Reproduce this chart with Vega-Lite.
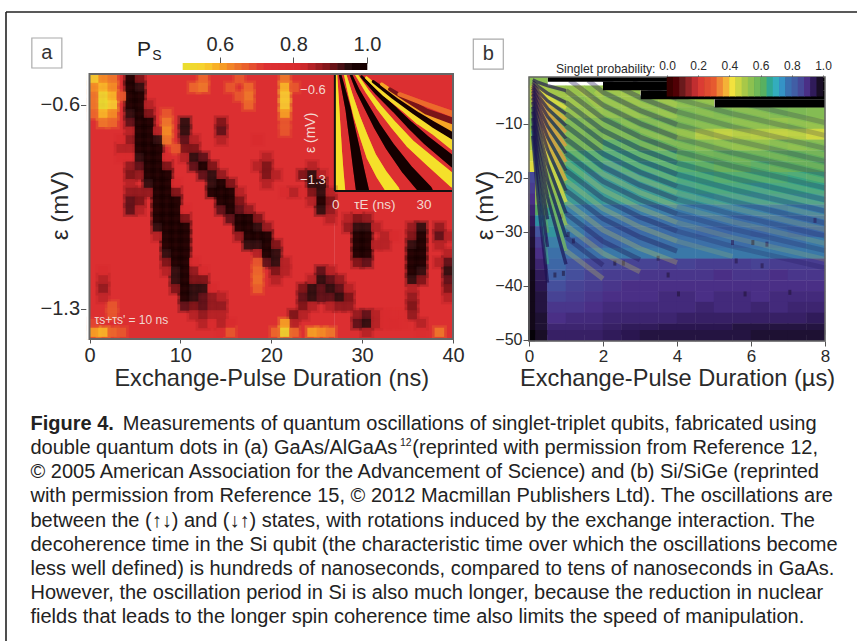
{"$schema":"https://vega.github.io/schema/vega-lite/v6.json","padding":0,"autosize":{"type":"none"},"width":857,"height":641,"background":"#ffffff",
"config":{"font":"Liberation Sans","view":{"stroke":null},"axis":{"grid":false,"labelFlush":false,"labelOverlap":false,"labelColor":"#2a2a2a","titleColor":"#2a2a2a","titleFontWeight":"normal","tickColor":"#555","domainColor":"#555"},"text":{"font":"Liberation Sans"}},
"resolve":{"scale":{"x":"independent","y":"independent","color":"independent","size":"independent"},"axis":{"x":"independent","y":"independent"}},
"layer":[
{"data":{"values":[{"x":0,"x2":851,"y":0,"y2":0},{"x":0,"x2":0,"y":0,"y2":629}]},"mark":{"type":"rule","stroke":"#222","strokeWidth":1.6},"encoding":{"x":{"field":"x","type":"quantitative","scale":{"domain":[0,851],"range":[6,857]},"axis":null},"y":{"field":"y","type":"quantitative","scale":{"domain":[0,629],"range":[12,641]},"axis":null},"x2":{"field":"x2"},"y2":{"field":"y2"}}},
{"encoding":{"x":{"field":"v","type":"quantitative","scale":{"domain":[0.5,1],"range":[183,367]},"axis":{"orient":"top","offset":-63,"values":[0.6,0.8,1.0],"format":".1f","domain":false,"tickSize":6,"labelFontSize":20,"labelPadding":3,"title":null}},"y":{"field":"y","type":"quantitative","scale":{"domain":[0,1],"range":[70,63]},"axis":null}},
"layer":[
{"data":{"values":[{"v":0.51,"y":0,"y2":1},{"v":0.53,"y":0,"y2":1},{"v":0.55,"y":0,"y2":1},{"v":0.57,"y":0,"y2":1},{"v":0.59,"y":0,"y2":1},{"v":0.61,"y":0,"y2":1},{"v":0.63,"y":0,"y2":1},{"v":0.65,"y":0,"y2":1},{"v":0.67,"y":0,"y2":1},{"v":0.69,"y":0,"y2":1},{"v":0.71,"y":0,"y2":1},{"v":0.73,"y":0,"y2":1},{"v":0.75,"y":0,"y2":1},{"v":0.77,"y":0,"y2":1},{"v":0.79,"y":0,"y2":1},{"v":0.81,"y":0,"y2":1},{"v":0.83,"y":0,"y2":1},{"v":0.85,"y":0,"y2":1},{"v":0.87,"y":0,"y2":1},{"v":0.89,"y":0,"y2":1},{"v":0.91,"y":0,"y2":1},{"v":0.93,"y":0,"y2":1},{"v":0.95,"y":0,"y2":1},{"v":0.97,"y":0,"y2":1},{"v":0.99,"y":0,"y2":1}]},
"mark":{"type":"rect","width":8},"encoding":{"y2":{"field":"y2"},"color":{"field":"v","type":"quantitative","legend":null,"scale":{"domain":[0.5,0.56,0.64,0.72,0.82,0.9,0.96,1],"range":["#e8e030","#f8d030","#ef7a2a","#dd3033","#d82c2e","#7a1418","#1a0506","#000000"]}}}},
{"data":{"values":[{"v":0.13,"y":2.43}]},"mark":{"type":"point","shape":"square","size":900,"filled":false,"stroke":"#888","strokeWidth":1.2}},
{"data":{"values":[{"v":0.13,"y":2.43,"label":"a"}]},"mark":{"type":"text","fontSize":20,"fill":"#333"},"encoding":{"text":{"field":"label"}}},
{"data":{"values":[{"v":0.394,"y":2.86,"label":"P"}]},"mark":{"type":"text","fontSize":21,"fill":"#222"},"encoding":{"text":{"field":"label"}}},
{"data":{"values":[{"v":0.429,"y":2.0,"label":"S"}]},"mark":{"type":"text","fontSize":14,"fill":"#222"},"encoding":{"text":{"field":"label"}}}
]},
{"encoding":{"x":{"field":"t","type":"quantitative","scale":{"domain":[0,40],"range":[334,453]},"axis":null},"y":{"field":"e","type":"quantitative","scale":{"domain":[-1.41,-0.49],"range":[191,74]},"axis":null}},
"layer":[
{"data":{"values":[{"t":0,"t2":40,"e":-0.49,"e2":-1.41,"v":0.75}]},"mark":"rect","encoding":{"x2":{"field":"t2"},"y2":{"field":"e2"},"color":{"field":"v","type":"quantitative","legend":null,"scale":{"domain":[0.5,0.56,0.64,0.72,0.82,0.9,0.96,1],"range":["#f5e02a","#f8d030","#ef7a2a","#dd3033","#d82c2e","#7a1418","#1a0506","#000000"]}}}},
{"data":{"name":"fringes"},"mark":{"type":"trail"},"encoding":{"detail":{"field":"c"},"size":{"field":"e","type":"quantitative","legend":null,"scale":{"domain":[-0.49,-1.41],"range":[2.4,13]}},"color":{"field":"h","type":"quantitative"}}},
{"data":{"name":"fringes"},"mark":{"type":"trail"},"encoding":{"detail":{"field":"c"},"size":{"field":"e","type":"quantitative","legend":null,"scale":{"domain":[-0.49,-1.41],"range":[1.2,8]}},"color":{"field":"v","type":"quantitative"}}}
]},
{"encoding":{"x":{"field":"x","type":"quantitative","scale":{"domain":[0,40],"range":[89.5,453]},"axis":{"orient":"bottom","offset":-302,"values":[0,10,20,30,40],"labelFontSize":20,"tickSize":4,"labelPadding":2,"domain":false,"title":"Exchange-Pulse Duration (ns)","titleFontSize":23.6,"titleY":39,"titleBaseline":"middle"}},"y":{"field":"y","type":"quantitative","scale":{"domain":[-1.403,-0.494],"range":[339,74]},"axis":{"orient":"left","offset":-89.5,"values":[-0.6,-1.3],"format":".1f","labelFontSize":20,"tickSize":9,"labelPadding":1,"domain":false,"title":"ε (mV)","titleFontSize":24,"titleX":-29,"titleY":205,"titleBaseline":"middle","titleAlign":"center","titleAngle":-90}}},
"layer":[
{"data":{"values":[{"x":0,"x2":27,"y":-0.494,"y2":-1.403,"v":0.75},{"x":27,"x2":40,"y":-0.8955,"y2":-1.403,"v":0.75}]},"mark":"rect","encoding":{"x2":{"field":"x2"},"y2":{"field":"y2"},"color":{"field":"v","type":"quantitative","legend":null,"scale":{"domain":[0.5,0.56,0.64,0.72,0.82,0.9,0.96,1],"range":["#e8e030","#f8d030","#ef7a2a","#dd3033","#d82c2e","#7a1418","#1a0506","#000000"]}}}},
{"data":{"name":"cellsA"},"mark":{"type":"rect","width":15,"height":14,"opacity":0.3},"encoding":{"color":{"field":"v","type":"quantitative"}}},
{"data":{"name":"cellsA"},"mark":{"type":"rect","width":9.6,"height":9.2,"opacity":0.85},"encoding":{"color":{"field":"v","type":"quantitative"}}},
{"data":{"values":[{"x":40,"x2":42,"y":-0.48,"y2":-1.403},{"x":-0.35,"x2":42,"y":-0.494,"y2":-0.484},{"x":-0.35,"x2":0,"y":-0.48,"y2":-1.403}]},"mark":{"type":"rect","fill":"#ffffff"},"encoding":{"x2":{"field":"x2"},"y2":{"field":"y2"}}},
{"data":{"values":[{"x":27,"x2":27,"y":-0.494,"y2":-0.8955},{"x":27,"x2":40,"y":-0.8955,"y2":-0.8955}]},"mark":{"type":"rule","stroke":"#111","strokeWidth":2},"encoding":{"x2":{"field":"x2"},"y2":{"field":"y2"}}},
{"data":{"values":[{"x":0,"x2":40,"y":-0.494,"y2":-1.403}]},"mark":{"type":"rect","fillOpacity":0,"stroke":"#666","strokeWidth":2},"encoding":{"x2":{"field":"x2"},"y2":{"field":"y2"}}},
{"data":{"values":[{"x":26,"y":-0.548,"label":"−0.6"},{"x":26,"y":-0.858,"label":"−1.3"}]},"mark":{"type":"text","fontSize":13,"align":"right","fill":"#f3d8d0"},"encoding":{"text":{"field":"label"}}},
{"data":{"values":[{"x":27.1,"y":-0.944,"label":"0"},{"x":31.4,"y":-0.944,"label":"τE (ns)"},{"x":36.8,"y":-0.944,"label":"30"}]},"mark":{"type":"text","fontSize":13.5,"fill":"#f3d8d0"},"encoding":{"text":{"field":"label"}}},
{"data":{"values":[{"x":24.4,"y":-0.696,"label":"ε (mV)"}]},"mark":{"type":"text","fontSize":14,"angle":270,"fill":"#f3d8d0"},"encoding":{"text":{"field":"label"}}},
{"data":{"values":[{"x":4.6,"y":-1.337,"label":"τs+τs' = 10 ns"}]},"mark":{"type":"text","fontSize":12,"fill":"#f0d8d0"},"encoding":{"text":{"field":"label"}}}
]},
{"encoding":{"x":{"field":"x","type":"quantitative","scale":{"domain":[0,8],"range":[529,825]},"axis":{"orient":"bottom","offset":-300,"values":[0,2,4,6,8],"labelFontSize":17,"tickSize":5,"labelPadding":2,"domain":false,"title":"Exchange-Pulse Duration (µs)","titleFontSize":23.6,"titleY":37,"titleBaseline":"middle"}},"y":{"field":"y","type":"quantitative","scale":{"domain":[-50.2,-1.4],"range":[341,77]},"axis":{"orient":"left","offset":-529,"values":[-10,-20,-30,-40,-50],"format":"d","labelFontSize":16,"tickSize":6,"labelPadding":1,"domain":false,"title":"ε (mV)","titleFontSize":24,"titleX":-44,"titleY":205,"titleBaseline":"middle","titleAlign":"center","titleAngle":-90}}},
"layer":[
{"data":{"name":"cellsB"},"mark":{"type":"rect","width":19,"height":11.2},"encoding":{"color":{"field":"v","type":"quantitative","legend":null,"scale":{"domain":[0,0.1,0.2,0.3,0.36,0.42,0.5,0.62,0.68,0.76,0.78,0.84,0.9,0.95,1],"range":["#000000","#6a1a1c","#d83434","#e65a30","#f09a3a","#f2e23e","#a8c848","#58a860","#3e9a96","#3c7fa8","#3c70a8","#45559f","#4a2f86","#2a1650","#050208"]}}}},
{"data":{"values":[{"x":0.07,"y":-20,"v":0.86},{"x":0.07,"y":-22,"v":0.88},{"x":0.07,"y":-24,"v":0.9},{"x":0.07,"y":-26,"v":0.92},{"x":0.07,"y":-28,"v":0.94},{"x":0.07,"y":-30,"v":0.96},{"x":0.07,"y":-32,"v":0.97},{"x":0.07,"y":-34,"v":0.98},{"x":0.07,"y":-36,"v":0.98},{"x":0.07,"y":-38,"v":0.99},{"x":0.07,"y":-40,"v":0.99},{"x":0.07,"y":-42,"v":0.99},{"x":0.07,"y":-44,"v":0.99},{"x":0.07,"y":-46,"v":0.99},{"x":0.07,"y":-48,"v":0.99},{"x":0.07,"y":-49.2,"v":1}]},"mark":{"type":"rect","width":7,"height":11.2},"encoding":{"color":{"field":"v","type":"quantitative"}}},
{"data":{"values":[{"x":2.32,"y":-35.8,"v":0.97},{"x":2.55,"y":-35.8,"v":0.97},{"x":0.7,"y":-38,"v":0.97},{"x":0.93,"y":-37.7,"v":0.97},{"x":3.49,"y":-34.9,"v":0.96},{"x":3.76,"y":-38,"v":0.97},{"x":6.05,"y":-32,"v":0.97},{"x":5.5,"y":-32,"v":0.95},{"x":5.6,"y":-35.4,"v":0.96},{"x":6.3,"y":-36.3,"v":0.96},{"x":7.05,"y":-41.2,"v":0.97},{"x":5.84,"y":-41.5,"v":0.97},{"x":4.04,"y":-41.5,"v":0.97},{"x":7.73,"y":-27.9,"v":0.94},{"x":6.43,"y":-32.3,"v":0.95},{"x":1.2,"y":-31.7,"v":0.96},{"x":1.06,"y":-30.5,"v":0.96},{"x":0.88,"y":-27.1,"v":0.95}]},"mark":{"type":"rect","width":3,"height":5,"opacity":0.55},"encoding":{"color":{"field":"v","type":"quantitative"}}},
{"data":{"name":"brightB"},"transform":[{"filter":"datum.p=='t'"}],"mark":{"type":"line","strokeWidth":5,"opacity":0.14,"stroke":"#e8e04a","strokeCap":"butt"},"encoding":{"detail":{"field":"s"}}},
{"data":{"name":"darkB"},"transform":[{"filter":"datum.p=='t'"}],"mark":{"type":"line","strokeWidth":5,"opacity":0.2,"stroke":"#1a1050","strokeCap":"butt"},"encoding":{"detail":{"field":"s"}}},
{"data":{"name":"brightB"},"transform":[{"filter":"datum.p=='m'"}],"mark":{"type":"line","strokeWidth":5,"opacity":0.24,"stroke":"#e8e04a","strokeCap":"butt"},"encoding":{"detail":{"field":"s"}}},
{"data":{"name":"darkB"},"transform":[{"filter":"datum.p=='m'"}],"mark":{"type":"line","strokeWidth":5,"opacity":0.34,"stroke":"#1a1050","strokeCap":"butt"},"encoding":{"detail":{"field":"s"}}},
{"data":{"name":"brightB"},"transform":[{"filter":"datum.p=='f'"}],"mark":{"type":"line","strokeWidth":3.6,"opacity":0.7,"strokeCap":"butt"},"encoding":{"detail":{"field":"s"},"color":{"field":"v","type":"quantitative"}}},
{"data":{"name":"darkB"},"transform":[{"filter":"datum.p=='f'"}],"mark":{"type":"line","strokeWidth":3.4,"opacity":0.65,"stroke":"#1a1050","strokeCap":"butt"},"encoding":{"detail":{"field":"s"}}},
{"data":{"values":[{"x":0.51,"x2":8,"y":-1.4,"y2":-2.3},{"x":2,"x2":8,"y":-2.3,"y2":-3.85},{"x":3.02,"x2":8,"y":-3.85,"y2":-5.5},{"x":5.02,"x2":8,"y":-5.5,"y2":-7.05}]},"mark":{"type":"rect","fill":"#000"},"encoding":{"x2":{"field":"x2"},"y2":{"field":"y2"}}},
{"data":{"values":[{"x":0,"x2":8,"y":-1.4,"y2":-50.2}]},"mark":{"type":"rect","fillOpacity":0,"stroke":"#666","strokeWidth":1.5},"encoding":{"x2":{"field":"x2"},"y2":{"field":"y2"}}},
{"data":{"values":[{"x":-1.1,"y":2.84}]},"mark":{"type":"point","shape":"square","size":900,"filled":false,"stroke":"#888","strokeWidth":1.2}},
{"data":{"values":[{"x":-1.1,"y":2.84,"label":"b"}]},"mark":{"type":"text","fontSize":20,"fill":"#333"},"encoding":{"text":{"field":"label"}}}
]},
{"data":{"values":[{"p":0.02},{"p":0.06},{"p":0.1},{"p":0.14},{"p":0.18},{"p":0.22},{"p":0.26},{"p":0.3},{"p":0.34},{"p":0.38},{"p":0.42},{"p":0.46},{"p":0.5},{"p":0.54},{"p":0.58},{"p":0.62},{"p":0.66},{"p":0.7},{"p":0.74},{"p":0.78},{"p":0.82},{"p":0.86},{"p":0.9},{"p":0.94},{"p":0.98}]},
"mark":{"type":"rect","width":6.8},"encoding":{"x":{"field":"p","type":"quantitative","scale":{"domain":[0,1],"range":[667,823]},"axis":{"orient":"top","offset":-77,"values":[0,0.2,0.4,0.6,0.8,1],"format":".1f","domain":false,"tickSize":2,"labelFontSize":12,"labelPadding":3,"title":"Singlet probability:","titleFontSize":12.2,"titleX":655,"titleY":-9,"titleAlign":"right","titleBaseline":"middle","titleAngle":0}},"y":{"datum":-1.4,"type":"quantitative","scale":{"domain":[-50.2,-1.4],"range":[341,77]},"axis":null},"y2":{"datum":-5},"color":{"field":"p","type":"quantitative","legend":null,"scale":{"domain":[0,0.1,0.2,0.3,0.36,0.42,0.5,0.62,0.68,0.72,0.75,0.78,0.84,0.9,0.95,1],"range":["#000000","#6a1a1c","#d83434","#e65a30","#f09a3a","#f2e23e","#a8c848","#58b060","#3ea0a0","#34b8dc","#3a80b8","#3a70b0","#45559f","#4a2f86","#2a1650","#050208"]}}}},
{"encoding":{"y":{"field":"line","type":"quantitative","scale":{"domain":[0,8],"range":[424,617]},"axis":null}},"layer":[
{"data":{"values":[{"line":0,"text":"Measurements of quantum oscillations of singlet-triplet qubits, fabricated using"}]},"mark":{"type":"text","align":"left","fontSize":20,"fill":"#222"},"encoding":{"x":{"datum":129,"type":"quantitative","scale":{"domain":[0,857],"range":[0,857]},"axis":null},"text":{"field":"text"}}},
{"data":{"values":[{"line":0,"text":"Figure 4."}]},"mark":{"type":"text","align":"left","fontSize":20,"fontWeight":"bold","fill":"#222"},"encoding":{"x":{"datum":32,"type":"quantitative"},"text":{"field":"text"}}},
{"data":{"values":[{"line":1,"text":"double quantum dots in (a) GaAs/AlGaAs"}]},"mark":{"type":"text","align":"left","fontSize":20,"fill":"#222"},"encoding":{"x":{"datum":32,"type":"quantitative"},"text":{"field":"text"}}},
{"data":{"values":[{"line":0.8,"text":"12"}]},"mark":{"type":"text","align":"left","fontSize":10.5,"fill":"#222"},"encoding":{"x":{"datum":420,"type":"quantitative"},"text":{"field":"text"}}},
{"data":{"values":[{"line":1,"text":"(reprinted with permission from Reference 12,"}]},"mark":{"type":"text","align":"left","fontSize":20,"fill":"#222"},"encoding":{"x":{"datum":433,"type":"quantitative"},"text":{"field":"text"}}},
{"data":{"values":[{"line":2,"text":"© 2005 American Association for the Advancement of Science) and (b) Si/SiGe (reprinted"},{"line":3,"text":"with permission from Reference 15, © 2012 Macmillan Publishers Ltd). The oscillations are"},{"line":4,"text":"between the (↑↓) and (↓↑) states, with rotations induced by the exchange interaction. The"},{"line":5,"text":"decoherence time in the Si qubit (the characteristic time over which the oscillations become"},{"line":6,"text":"less well defined) is hundreds of nanoseconds, compared to tens of nanoseconds in GaAs."},{"line":7,"text":"However, the oscillation period in Si is also much longer, because the reduction in nuclear"},{"line":8,"text":"fields that leads to the longer spin coherence time also limits the speed of manipulation."}]},"mark":{"type":"text","align":"left","fontSize":20,"fill":"#222"},"encoding":{"x":{"datum":32,"type":"quantitative"},"text":{"field":"text"}}}
]}
],
"datasets":{
"fringes":[
{"c":"Y1","t":0.67,"e":-0.49,"v":0.5,"h":0.62},{"c":"Y1","t":0.8,"e":-0.65,"v":0.5,"h":0.62},{"c":"Y1","t":0.9,"e":-0.8,"v":0.5,"h":0.62},{"c":"Y1","t":1.0,"e":-0.95,"v":0.5,"h":0.62},{"c":"Y1","t":1.1,"e":-1.09,"v":0.5,"h":0.62},{"c":"Y1","t":1.3,"e":-1.25,"v":0.5,"h":0.62},{"c":"Y1","t":1.6,"e":-1.41,"v":0.5,"h":0.62},
{"c":"K1","t":2,"e":-0.49,"v":1,"h":0.88},{"c":"K1","t":3.4,"e":-0.63,"v":1,"h":0.88},{"c":"K1","t":4.8,"e":-0.77,"v":1,"h":0.88},{"c":"K1","t":5.9,"e":-0.92,"v":1,"h":0.88},{"c":"K1","t":7,"e":-1.06,"v":1,"h":0.88},{"c":"K1","t":8.3,"e":-1.24,"v":1,"h":0.88},{"c":"K1","t":9.6,"e":-1.41,"v":1,"h":0.88},
{"c":"Y2","t":3.7,"e":-0.49,"v":0.5,"h":0.62},{"c":"Y2","t":5.5,"e":-0.65,"v":0.5,"h":0.62},{"c":"Y2","t":7.6,"e":-0.82,"v":0.5,"h":0.62},{"c":"Y2","t":10,"e":-0.98,"v":0.5,"h":0.62},{"c":"Y2","t":12.6,"e":-1.14,"v":0.5,"h":0.62},{"c":"Y2","t":16,"e":-1.28,"v":0.5,"h":0.62},{"c":"Y2","t":19.9,"e":-1.41,"v":0.5,"h":0.62},
{"c":"K2","t":5.6,"e":-0.49,"v":1,"h":0.88},{"c":"K2","t":8,"e":-0.62,"v":1,"h":0.88},{"c":"K2","t":10.9,"e":-0.745,"v":1,"h":0.88},{"c":"K2","t":14.5,"e":-0.9,"v":1,"h":0.88},{"c":"K2","t":18.8,"e":-1.06,"v":1,"h":0.88},{"c":"K2","t":24.5,"e":-1.24,"v":1,"h":0.88},{"c":"K2","t":31,"e":-1.41,"v":1,"h":0.88},
{"c":"Y3","t":7.4,"e":-0.49,"v":0.5,"h":0.62},{"c":"Y3","t":11,"e":-0.62,"v":0.5,"h":0.62},{"c":"Y3","t":14.9,"e":-0.745,"v":0.5,"h":0.62},{"c":"Y3","t":20,"e":-0.89,"v":0.5,"h":0.62},{"c":"Y3","t":25.5,"e":-1.036,"v":0.5,"h":0.62},{"c":"Y3","t":33,"e":-1.19,"v":0.5,"h":0.62},{"c":"Y3","t":40.5,"e":-1.34,"v":0.5,"h":0.62},
{"c":"K3","t":9.3,"e":-0.51,"v":1,"h":0.88},{"c":"K3","t":14.5,"e":-0.64,"v":1,"h":0.88},{"c":"K3","t":20.4,"e":-0.77,"v":1,"h":0.88},{"c":"K3","t":25.5,"e":-0.89,"v":1,"h":0.88},{"c":"K3","t":31,"e":-1.01,"v":1,"h":0.88},{"c":"K3","t":40.5,"e":-1.19,"v":1,"h":0.88},
{"c":"Y4","t":10.9,"e":-0.52,"v":0.52,"h":0.63},{"c":"Y4","t":17,"e":-0.65,"v":0.52,"h":0.63},{"c":"Y4","t":23.8,"e":-0.77,"v":0.52,"h":0.63},{"c":"Y4","t":28.5,"e":-0.86,"v":0.52,"h":0.63},{"c":"Y4","t":33.8,"e":-0.94,"v":0.52,"h":0.63},{"c":"Y4","t":40.5,"e":-1.06,"v":0.52,"h":0.63},
{"c":"K4","t":13.2,"e":-0.55,"v":0.98,"h":0.88},{"c":"K4","t":20,"e":-0.67,"v":0.98,"h":0.88},{"c":"K4","t":27.1,"e":-0.785,"v":0.98,"h":0.88},{"c":"K4","t":33.5,"e":-0.885,"v":0.98,"h":0.88},{"c":"K4","t":40.5,"e":-0.98,"v":0.98,"h":0.88},
{"c":"Y5","t":16,"e":-0.57,"v":0.6,"h":0.68},{"c":"Y5","t":22,"e":-0.67,"v":0.6,"h":0.68},{"c":"Y5","t":28.8,"e":-0.77,"v":0.6,"h":0.68},{"c":"Y5","t":34.5,"e":-0.845,"v":0.6,"h":0.68},{"c":"Y5","t":40.5,"e":-0.92,"v":0.6,"h":0.68},
{"c":"K5","t":18.8,"e":-0.61,"v":0.9,"h":0.84},{"c":"K5","t":25,"e":-0.7,"v":0.9,"h":0.84},{"c":"K5","t":31,"e":-0.785,"v":0.9,"h":0.84},{"c":"K5","t":40.5,"e":-0.865,"v":0.9,"h":0.84},
{"c":"Y6","t":22,"e":-0.65,"v":0.66,"h":0.7},{"c":"Y6","t":30,"e":-0.72,"v":0.66,"h":0.7},{"c":"Y6","t":40.5,"e":-0.81,"v":0.66,"h":0.7}
],
"cellsA":[
{"x":4.5,"y":-0.51,"v":1},{"x":5.5,"y":-0.51,"v":0.9},{"x":4.5,"y":-0.54,"v":1},{"x":5.5,"y":-0.54,"v":0.95},{"x":4.5,"y":-0.57,"v":1},{"x":5.5,"y":-0.57,"v":1},{"x":4.5,"y":-0.6,"v":1},{"x":5.5,"y":-0.6,"v":1},{"x":6.5,"y":-0.6,"v":0.85},{"x":4.5,"y":-0.63,"v":0.95},{"x":5.5,"y":-0.63,"v":1},{"x":6.5,"y":-0.63,"v":0.9},{"x":4.5,"y":-0.66,"v":0.92},{"x":5.5,"y":-0.66,"v":1},{"x":6.5,"y":-0.66,"v":1},{"x":4.5,"y":-0.69,"v":0.85},{"x":5.5,"y":-0.69,"v":1},{"x":6.5,"y":-0.69,"v":1},{"x":7.5,"y":-0.69,"v":0.85},
{"x":3.5,"y":-0.72,"v":0.82},{"x":4.5,"y":-0.72,"v":0.88},{"x":5.5,"y":-0.72,"v":1},{"x":6.5,"y":-0.72,"v":1},{"x":7.5,"y":-0.72,"v":0.95},{"x":3.5,"y":-0.75,"v":0.85},{"x":4.5,"y":-0.75,"v":0.85},{"x":5.5,"y":-0.75,"v":1},{"x":6.5,"y":-0.75,"v":1},{"x":7.5,"y":-0.75,"v":1},{"x":3.5,"y":-0.78,"v":0.82},{"x":4.5,"y":-0.78,"v":0.82},{"x":5.5,"y":-0.78,"v":0.95},{"x":6.5,"y":-0.78,"v":1},{"x":7.5,"y":-0.78,"v":1},{"x":8.5,"y":-0.78,"v":0.82},
{"x":4.5,"y":-0.81,"v":0.88},{"x":5.5,"y":-0.81,"v":0.92},{"x":6.5,"y":-0.81,"v":1},{"x":7.5,"y":-0.81,"v":1},{"x":8.5,"y":-0.81,"v":0.9},{"x":4.5,"y":-0.84,"v":0.9},{"x":5.5,"y":-0.84,"v":0.88},{"x":6.5,"y":-0.84,"v":1},{"x":7.5,"y":-0.84,"v":1},{"x":8.5,"y":-0.84,"v":1},{"x":4.5,"y":-0.87,"v":0.85},{"x":6.5,"y":-0.87,"v":0.95},{"x":7.5,"y":-0.87,"v":1},{"x":8.5,"y":-0.87,"v":1},{"x":9.5,"y":-0.87,"v":0.82},
{"x":4.5,"y":-0.9,"v":0.88},{"x":5.5,"y":-0.9,"v":0.88},{"x":6.5,"y":-0.9,"v":0.88},{"x":7.5,"y":-0.9,"v":1},{"x":8.5,"y":-0.9,"v":1},{"x":9.5,"y":-0.9,"v":0.9},{"x":4.5,"y":-0.93,"v":0.92},{"x":5.5,"y":-0.93,"v":0.9},{"x":7.5,"y":-0.93,"v":1},{"x":8.5,"y":-0.93,"v":1},{"x":9.5,"y":-0.93,"v":1},{"x":4.5,"y":-0.96,"v":0.92},{"x":5.5,"y":-0.96,"v":0.85},{"x":7.5,"y":-0.96,"v":0.98},{"x":8.5,"y":-0.96,"v":1},{"x":9.5,"y":-0.96,"v":1},{"x":10.5,"y":-0.96,"v":0.82},
{"x":7.5,"y":-0.99,"v":1},{"x":8.5,"y":-0.99,"v":1},{"x":9.5,"y":-0.99,"v":1},{"x":10.5,"y":-0.99,"v":0.9},{"x":7.5,"y":-1.02,"v":0.95},{"x":8.5,"y":-1.02,"v":1},{"x":9.5,"y":-1.02,"v":1},{"x":10.5,"y":-1.02,"v":1},{"x":7.5,"y":-1.05,"v":0.85},{"x":8.5,"y":-1.05,"v":1},{"x":9.5,"y":-1.05,"v":1},{"x":10.5,"y":-1.05,"v":1},{"x":8.5,"y":-1.08,"v":0.98},{"x":9.5,"y":-1.08,"v":1},{"x":10.5,"y":-1.08,"v":1},{"x":8.5,"y":-1.11,"v":0.95},{"x":9.5,"y":-1.11,"v":1},{"x":10.5,"y":-1.11,"v":1},{"x":8.5,"y":-1.14,"v":0.9},{"x":9.5,"y":-1.14,"v":1},{"x":10.5,"y":-1.14,"v":1},{"x":11.5,"y":-1.14,"v":0.82},
{"x":8.5,"y":-1.17,"v":0.85},{"x":9.5,"y":-1.17,"v":0.95},{"x":10.5,"y":-1.17,"v":1},{"x":11.5,"y":-1.17,"v":0.88},{"x":12.5,"y":-1.17,"v":0.82},{"x":9.5,"y":-1.2,"v":0.95},{"x":10.5,"y":-1.2,"v":1},{"x":11.5,"y":-1.2,"v":0.9},{"x":12.5,"y":-1.2,"v":0.9},{"x":9.5,"y":-1.23,"v":0.9},{"x":10.5,"y":-1.23,"v":1},{"x":11.5,"y":-1.23,"v":0.95},{"x":12.5,"y":-1.23,"v":0.95},{"x":13.5,"y":-1.23,"v":0.82},{"x":10.5,"y":-1.26,"v":1},{"x":11.5,"y":-1.26,"v":0.95},{"x":12.5,"y":-1.26,"v":0.92},{"x":13.5,"y":-1.26,"v":0.88},{"x":14.5,"y":-1.26,"v":0.85},{"x":10.5,"y":-1.29,"v":0.92},{"x":11.5,"y":-1.29,"v":0.9},{"x":12.5,"y":-1.29,"v":0.92},{"x":13.5,"y":-1.29,"v":0.88},{"x":14.5,"y":-1.29,"v":0.88},{"x":11.5,"y":-1.32,"v":0.85},{"x":12.5,"y":-1.32,"v":0.88},{"x":13.5,"y":-1.32,"v":0.85},{"x":14.5,"y":-1.32,"v":0.85},{"x":12.5,"y":-1.35,"v":0.85},{"x":13.5,"y":-1.35,"v":0.82},{"x":14.5,"y":-1.35,"v":0.85},{"x":15.5,"y":-1.35,"v":0.82},{"x":14.5,"y":-1.38,"v":0.8},
{"x":10.5,"y":-0.66,"v":0.95},{"x":14.5,"y":-0.66,"v":0.9},{"x":10.5,"y":-0.69,"v":0.95},{"x":14.5,"y":-0.69,"v":0.92},{"x":10.5,"y":-0.72,"v":0.92},{"x":11.5,"y":-0.72,"v":0.85},{"x":14.5,"y":-0.72,"v":0.85},{"x":18.5,"y":-0.72,"v":0.82},{"x":10.5,"y":-0.75,"v":0.9},{"x":11.5,"y":-0.75,"v":0.9},{"x":10.5,"y":-0.78,"v":0.85},{"x":11.5,"y":-0.78,"v":0.95},{"x":12.5,"y":-0.78,"v":0.92},{"x":19.5,"y":-0.78,"v":0.85},{"x":11.5,"y":-0.81,"v":0.92},{"x":12.5,"y":-0.81,"v":1},{"x":13.5,"y":-0.81,"v":0.9},{"x":18.5,"y":-0.81,"v":0.85},{"x":19.5,"y":-0.81,"v":0.9},{"x":12.5,"y":-0.84,"v":0.92},{"x":13.5,"y":-0.84,"v":0.95},{"x":14.5,"y":-0.84,"v":0.88},{"x":19.5,"y":-0.84,"v":0.9},{"x":20.5,"y":-0.84,"v":0.85},{"x":13.5,"y":-0.87,"v":0.95},{"x":14.5,"y":-0.87,"v":1},{"x":15.5,"y":-0.87,"v":0.9},{"x":19.5,"y":-0.87,"v":0.85},
{"x":13.5,"y":-0.9,"v":1},{"x":14.5,"y":-0.9,"v":1},{"x":15.5,"y":-0.9,"v":1},{"x":16.5,"y":-0.9,"v":0.85},{"x":14.5,"y":-0.93,"v":1},{"x":15.5,"y":-0.93,"v":1},{"x":16.5,"y":-0.93,"v":0.9},{"x":14.5,"y":-0.96,"v":0.92},{"x":15.5,"y":-0.96,"v":1},{"x":16.5,"y":-0.96,"v":0.92},{"x":17.5,"y":-0.96,"v":0.88},{"x":15.5,"y":-0.99,"v":0.92},{"x":16.5,"y":-0.99,"v":1},{"x":17.5,"y":-0.99,"v":1},{"x":18.5,"y":-0.99,"v":0.9},{"x":16.5,"y":-1.02,"v":1},{"x":17.5,"y":-1.02,"v":1},{"x":18.5,"y":-1.02,"v":0.95},{"x":19.5,"y":-1.02,"v":0.88},{"x":16.5,"y":-1.05,"v":0.88},{"x":17.5,"y":-1.05,"v":1},{"x":18.5,"y":-1.05,"v":1},{"x":19.5,"y":-1.05,"v":1},{"x":17.5,"y":-1.08,"v":0.95},{"x":18.5,"y":-1.08,"v":0.95},{"x":19.5,"y":-1.08,"v":1},{"x":20.5,"y":-1.08,"v":0.9},{"x":18.5,"y":-1.11,"v":0.85},{"x":19.5,"y":-1.11,"v":1},{"x":20.5,"y":-1.11,"v":0.95},{"x":19.5,"y":-1.14,"v":0.92},{"x":20.5,"y":-1.14,"v":0.95},{"x":21.5,"y":-1.14,"v":0.85},{"x":20.5,"y":-1.17,"v":0.9},{"x":21.5,"y":-1.17,"v":0.85},{"x":20.5,"y":-1.2,"v":0.85},
{"x":24.5,"y":-0.81,"v":0.85},{"x":23.5,"y":-0.84,"v":0.9},{"x":24.5,"y":-0.84,"v":0.95},{"x":25.5,"y":-0.84,"v":0.85},{"x":24.5,"y":-0.87,"v":0.95},{"x":25.5,"y":-0.87,"v":0.95},{"x":21.5,"y":-0.9,"v":0.82},{"x":22.5,"y":-0.9,"v":0.85},{"x":23.5,"y":-0.9,"v":0.82},{"x":24.5,"y":-0.9,"v":0.9},{"x":25.5,"y":-0.9,"v":0.95},{"x":26.5,"y":-0.9,"v":0.85},{"x":24.5,"y":-0.93,"v":0.85},{"x":25.5,"y":-0.93,"v":0.98},{"x":26.5,"y":-0.93,"v":0.9},{"x":25.5,"y":-0.96,"v":0.95},{"x":26.5,"y":-0.96,"v":0.88},{"x":29.5,"y":-0.96,"v":0.82},{"x":26.5,"y":-0.99,"v":0.85},{"x":28.5,"y":-0.99,"v":0.85},{"x":29.5,"y":-0.99,"v":0.9},{"x":30.5,"y":-0.99,"v":0.88},
{"x":28.5,"y":-1.02,"v":0.88},{"x":29.5,"y":-1.02,"v":0.95},{"x":30.5,"y":-1.02,"v":0.95},{"x":31.5,"y":-1.02,"v":0.85},{"x":35.5,"y":-1.02,"v":0.88},{"x":36.5,"y":-1.02,"v":0.95},{"x":38.5,"y":-1.02,"v":0.88},{"x":29.5,"y":-1.05,"v":1},{"x":30.5,"y":-1.05,"v":1},{"x":32.5,"y":-1.05,"v":0.85},{"x":33.5,"y":-1.05,"v":0.82},{"x":35.5,"y":-1.05,"v":0.9},{"x":36.5,"y":-1.05,"v":1},{"x":38.5,"y":-1.05,"v":0.92},{"x":39.5,"y":-1.05,"v":0.85},{"x":29.5,"y":-1.08,"v":1},{"x":30.5,"y":-1.08,"v":1},{"x":31.5,"y":-1.08,"v":0.85},{"x":32.5,"y":-1.08,"v":0.85},{"x":35.5,"y":-1.08,"v":0.95},{"x":36.5,"y":-1.08,"v":1},{"x":38.5,"y":-1.08,"v":0.85},{"x":29.5,"y":-1.11,"v":1},{"x":30.5,"y":-1.11,"v":1},{"x":35.5,"y":-1.11,"v":1},{"x":36.5,"y":-1.11,"v":1},{"x":39.5,"y":-1.11,"v":0.85},{"x":29.5,"y":-1.14,"v":0.9},{"x":30.5,"y":-1.14,"v":0.92},{"x":35.5,"y":-1.14,"v":1},{"x":36.5,"y":-1.14,"v":1},{"x":38.5,"y":-1.14,"v":0.85},{"x":39.5,"y":-1.14,"v":0.92},
{"x":25.5,"y":-1.17,"v":0.92},{"x":26.5,"y":-1.17,"v":0.85},{"x":35.5,"y":-1.17,"v":1},{"x":36.5,"y":-1.17,"v":0.95},{"x":39.5,"y":-1.17,"v":0.95},{"x":24.5,"y":-1.2,"v":0.85},{"x":25.5,"y":-1.2,"v":0.95},{"x":26.5,"y":-1.2,"v":0.92},{"x":27.5,"y":-1.2,"v":0.88},{"x":35.5,"y":-1.2,"v":0.95},{"x":36.5,"y":-1.2,"v":0.9},{"x":39.5,"y":-1.2,"v":0.92},{"x":23.5,"y":-1.23,"v":0.9},{"x":24.5,"y":-1.23,"v":0.95},{"x":25.5,"y":-1.23,"v":0.92},{"x":26.5,"y":-1.23,"v":0.95},{"x":27.5,"y":-1.23,"v":0.92},{"x":28.5,"y":-1.23,"v":0.85},{"x":35.5,"y":-1.23,"v":0.85},{"x":39.5,"y":-1.23,"v":0.9},{"x":23.5,"y":-1.26,"v":0.92},{"x":24.5,"y":-1.26,"v":0.95},{"x":25.5,"y":-1.26,"v":0.92},{"x":26.5,"y":-1.26,"v":0.92},{"x":27.5,"y":-1.26,"v":0.95},{"x":28.5,"y":-1.26,"v":0.9},{"x":35.5,"y":-1.26,"v":0.88},{"x":39.5,"y":-1.26,"v":0.85},{"x":23.5,"y":-1.29,"v":0.9},{"x":24.5,"y":-1.29,"v":0.85},{"x":26.5,"y":-1.29,"v":0.85},{"x":27.5,"y":-1.29,"v":0.88},{"x":28.5,"y":-1.29,"v":0.88},{"x":35.5,"y":-1.29,"v":0.9},
{"x":22.5,"y":-1.32,"v":0.9},{"x":23.5,"y":-1.32,"v":0.85},{"x":29.5,"y":-1.32,"v":0.88},{"x":30.5,"y":-1.32,"v":0.92},{"x":31.5,"y":-1.32,"v":0.85},{"x":32.5,"y":-1.32,"v":0.82},{"x":33.5,"y":-1.32,"v":0.8},{"x":34.5,"y":-1.32,"v":0.8},{"x":35.5,"y":-1.32,"v":0.88},{"x":22.5,"y":-1.35,"v":0.85},{"x":29.5,"y":-1.35,"v":0.92},{"x":30.5,"y":-1.35,"v":0.95},{"x":31.5,"y":-1.35,"v":0.85},{"x":32.5,"y":-1.35,"v":0.82},{"x":33.5,"y":-1.35,"v":0.82},{"x":34.5,"y":-1.35,"v":0.8},{"x":36.5,"y":-1.35,"v":0.85},{"x":30.5,"y":-1.38,"v":0.85},{"x":36.5,"y":-1.38,"v":0.8},
{"x":0.5,"y":-0.51,"v":0.55},{"x":1.5,"y":-0.51,"v":0.62},{"x":2.5,"y":-0.51,"v":0.64},{"x":12.5,"y":-0.51,"v":0.66},{"x":21.5,"y":-0.51,"v":0.64},{"x":16.5,"y":-0.51,"v":0.68},{"x":0.5,"y":-0.54,"v":0.62},{"x":1.5,"y":-0.54,"v":0.58},{"x":2.5,"y":-0.54,"v":0.62},{"x":11.5,"y":-0.54,"v":0.66},{"x":12.5,"y":-0.54,"v":0.64},{"x":21.5,"y":-0.54,"v":0.58},{"x":22.5,"y":-0.54,"v":0.68},{"x":17.5,"y":-0.54,"v":0.66},{"x":15.5,"y":-0.54,"v":0.68},{"x":0.5,"y":-0.57,"v":0.64},{"x":1.5,"y":-0.57,"v":0.52},{"x":2.5,"y":-0.57,"v":0.58},{"x":3.5,"y":-0.57,"v":0.68},{"x":21.5,"y":-0.57,"v":0.56},{"x":17.5,"y":-0.57,"v":0.64},{"x":16.5,"y":-0.57,"v":0.68},{"x":0.5,"y":-0.6,"v":0.64},{"x":1.5,"y":-0.6,"v":0.5},{"x":2.5,"y":-0.6,"v":0.56},{"x":21.5,"y":-0.6,"v":0.56},{"x":17.5,"y":-0.6,"v":0.66},{"x":0.5,"y":-0.63,"v":0.66},{"x":1.5,"y":-0.63,"v":0.58},{"x":2.5,"y":-0.63,"v":0.62},{"x":21.5,"y":-0.63,"v":0.6},{"x":8.5,"y":-0.63,"v":0.68},{"x":1.5,"y":-0.66,"v":0.64},{"x":2.5,"y":-0.66,"v":0.66},{"x":8.5,"y":-0.66,"v":0.64},{"x":21.5,"y":-0.66,"v":0.68},{"x":8.5,"y":-0.69,"v":0.62},{"x":21.5,"y":-0.69,"v":0.68},{"x":8.5,"y":-0.72,"v":0.64},{"x":9.5,"y":-0.75,"v":0.68},
{"x":18.5,"y":-1.14,"v":0.68},{"x":18.5,"y":-1.17,"v":0.66},{"x":18.5,"y":-1.2,"v":0.65},{"x":18.5,"y":-1.23,"v":0.67},{"x":2.5,"y":-1.29,"v":0.68},{"x":2.5,"y":-1.32,"v":0.68},{"x":0.5,"y":-1.35,"v":0.7},{"x":21.5,"y":-1.35,"v":0.6},{"x":0.5,"y":-1.38,"v":0.6},{"x":1.5,"y":-1.38,"v":0.58},{"x":2.5,"y":-1.38,"v":0.66},{"x":3.5,"y":-1.38,"v":0.68},{"x":15.5,"y":-1.38,"v":0.68},{"x":20.5,"y":-1.38,"v":0.66},{"x":21.5,"y":-1.38,"v":0.52},{"x":22.5,"y":-1.38,"v":0.66},{"x":24.5,"y":-1.38,"v":0.6},{"x":25.5,"y":-1.38,"v":0.62},{"x":26.5,"y":-1.38,"v":0.64},{"x":38.5,"y":-1.38,"v":0.64},
{"x":1.5,"y":-1.17,"v":0.82},{"x":1.5,"y":-1.2,"v":0.85},{"x":1.5,"y":-1.23,"v":0.88},{"x":1.5,"y":-1.26,"v":0.84}
],
"cellsB":[
{"x":0.25,"y":-2.4,"v":0.54},
{"x":0.25,"y":-4,"v":0.5},{"x":0.75,"y":-4,"v":0.52},{"x":1.25,"y":-4,"v":0.52},{"x":1.75,"y":-4,"v":0.53},{"x":2.25,"y":-4,"v":0.54},{"x":2.75,"y":-4,"v":0.53},
{"x":0.25,"y":-6,"v":0.52},{"x":0.75,"y":-6,"v":0.53},{"x":1.25,"y":-6,"v":0.54},{"x":1.75,"y":-6,"v":0.54},{"x":2.25,"y":-6,"v":0.55},{"x":2.75,"y":-6,"v":0.54},{"x":3.25,"y":-6,"v":0.55},{"x":3.75,"y":-6,"v":0.54},{"x":4.25,"y":-6,"v":0.55},{"x":4.75,"y":-6,"v":0.54},
{"x":0.25,"y":-8,"v":0.54},{"x":0.75,"y":-8,"v":0.55},{"x":1.25,"y":-8,"v":0.56},{"x":1.75,"y":-8,"v":0.55},{"x":2.25,"y":-8,"v":0.56},{"x":2.75,"y":-8,"v":0.55},{"x":3.25,"y":-8,"v":0.56},{"x":3.75,"y":-8,"v":0.55},{"x":4.25,"y":-8,"v":0.57},{"x":4.75,"y":-8,"v":0.56},{"x":5.25,"y":-8,"v":0.57},{"x":5.75,"y":-8,"v":0.56},{"x":6.25,"y":-8,"v":0.56},{"x":6.75,"y":-8,"v":0.57},{"x":7.25,"y":-8,"v":0.56},{"x":7.75,"y":-8,"v":0.55},
{"x":0.25,"y":-10,"v":0.56},{"x":0.75,"y":-10,"v":0.58},{"x":1.25,"y":-10,"v":0.6},{"x":1.75,"y":-10,"v":0.59},{"x":2.25,"y":-10,"v":0.6},{"x":2.75,"y":-10,"v":0.58},{"x":3.25,"y":-10,"v":0.59},{"x":3.75,"y":-10,"v":0.58},{"x":4.25,"y":-10,"v":0.57},{"x":4.75,"y":-10,"v":0.56},{"x":5.25,"y":-10,"v":0.56},{"x":5.75,"y":-10,"v":0.55},{"x":6.25,"y":-10,"v":0.55},{"x":6.75,"y":-10,"v":0.54},{"x":7.25,"y":-10,"v":0.55},{"x":7.75,"y":-10,"v":0.54},
{"x":0.25,"y":-12,"v":0.52},{"x":0.75,"y":-12,"v":0.56},{"x":1.25,"y":-12,"v":0.6},{"x":1.75,"y":-12,"v":0.62},{"x":2.25,"y":-12,"v":0.6},{"x":2.75,"y":-12,"v":0.6},{"x":3.25,"y":-12,"v":0.58},{"x":3.75,"y":-12,"v":0.57},{"x":4.25,"y":-12,"v":0.54},{"x":4.75,"y":-12,"v":0.5},{"x":5.25,"y":-12,"v":0.48},{"x":5.75,"y":-12,"v":0.5},{"x":6.25,"y":-12,"v":0.49},{"x":6.75,"y":-12,"v":0.48},{"x":7.25,"y":-12,"v":0.49},{"x":7.75,"y":-12,"v":0.46},
{"x":0.25,"y":-14,"v":0.5},{"x":0.75,"y":-14,"v":0.58},{"x":1.25,"y":-14,"v":0.62},{"x":1.75,"y":-14,"v":0.62},{"x":2.25,"y":-14,"v":0.64},{"x":2.75,"y":-14,"v":0.63},{"x":3.25,"y":-14,"v":0.62},{"x":3.75,"y":-14,"v":0.6},{"x":4.25,"y":-14,"v":0.58},{"x":4.75,"y":-14,"v":0.56},{"x":5.25,"y":-14,"v":0.55},{"x":5.75,"y":-14,"v":0.54},{"x":6.25,"y":-14,"v":0.54},{"x":6.75,"y":-14,"v":0.56},{"x":7.25,"y":-14,"v":0.55},{"x":7.75,"y":-14,"v":0.56},
{"x":0.25,"y":-16,"v":0.46},{"x":0.75,"y":-16,"v":0.58},{"x":1.25,"y":-16,"v":0.64},{"x":1.75,"y":-16,"v":0.65},{"x":2.25,"y":-16,"v":0.66},{"x":2.75,"y":-16,"v":0.65},{"x":3.25,"y":-16,"v":0.64},{"x":3.75,"y":-16,"v":0.64},{"x":4.25,"y":-16,"v":0.62},{"x":4.75,"y":-16,"v":0.6},{"x":5.25,"y":-16,"v":0.61},{"x":5.75,"y":-16,"v":0.6},{"x":6.25,"y":-16,"v":0.6},{"x":6.75,"y":-16,"v":0.6},{"x":7.25,"y":-16,"v":0.61},{"x":7.75,"y":-16,"v":0.6},
{"x":0.25,"y":-18,"v":0.44},{"x":0.75,"y":-18,"v":0.6},{"x":1.25,"y":-18,"v":0.66},{"x":1.75,"y":-18,"v":0.66},{"x":2.25,"y":-18,"v":0.68},{"x":2.75,"y":-18,"v":0.66},{"x":3.25,"y":-18,"v":0.66},{"x":3.75,"y":-18,"v":0.65},{"x":4.25,"y":-18,"v":0.64},{"x":4.75,"y":-18,"v":0.63},{"x":5.25,"y":-18,"v":0.62},{"x":5.75,"y":-18,"v":0.62},{"x":6.25,"y":-18,"v":0.63},{"x":6.75,"y":-18,"v":0.62},{"x":7.25,"y":-18,"v":0.62},{"x":7.75,"y":-18,"v":0.62},
{"x":0.25,"y":-20,"v":0.48},{"x":0.75,"y":-20,"v":0.62},{"x":1.25,"y":-20,"v":0.66},{"x":1.75,"y":-20,"v":0.68},{"x":2.25,"y":-20,"v":0.68},{"x":2.75,"y":-20,"v":0.68},{"x":3.25,"y":-20,"v":0.67},{"x":3.75,"y":-20,"v":0.66},{"x":4.25,"y":-20,"v":0.66},{"x":4.75,"y":-20,"v":0.65},{"x":5.25,"y":-20,"v":0.64},{"x":5.75,"y":-20,"v":0.64},{"x":6.25,"y":-20,"v":0.64},{"x":6.75,"y":-20,"v":0.64},{"x":7.25,"y":-20,"v":0.65},{"x":7.75,"y":-20,"v":0.64},
{"x":0.25,"y":-22,"v":0.5},{"x":0.75,"y":-22,"v":0.62},{"x":1.25,"y":-22,"v":0.68},{"x":1.75,"y":-22,"v":0.68},{"x":2.25,"y":-22,"v":0.68},{"x":2.75,"y":-22,"v":0.69},{"x":3.25,"y":-22,"v":0.68},{"x":3.75,"y":-22,"v":0.67},{"x":4.25,"y":-22,"v":0.67},{"x":4.75,"y":-22,"v":0.66},{"x":5.25,"y":-22,"v":0.66},{"x":5.75,"y":-22,"v":0.66},{"x":6.25,"y":-22,"v":0.67},{"x":6.75,"y":-22,"v":0.66},{"x":7.25,"y":-22,"v":0.66},{"x":7.75,"y":-22,"v":0.66},
{"x":0.25,"y":-24,"v":0.54},{"x":0.75,"y":-24,"v":0.64},{"x":1.25,"y":-24,"v":0.68},{"x":1.75,"y":-24,"v":0.69},{"x":2.25,"y":-24,"v":0.68},{"x":2.75,"y":-24,"v":0.68},{"x":3.25,"y":-24,"v":0.68},{"x":3.75,"y":-24,"v":0.68},{"x":4.25,"y":-24,"v":0.68},{"x":4.75,"y":-24,"v":0.69},{"x":5.25,"y":-24,"v":0.68},{"x":5.75,"y":-24,"v":0.68},{"x":6.25,"y":-24,"v":0.68},{"x":6.75,"y":-24,"v":0.68},{"x":7.25,"y":-24,"v":0.68},{"x":7.75,"y":-24,"v":0.68},
{"x":0.25,"y":-26,"v":0.62},{"x":0.75,"y":-26,"v":0.66},{"x":1.25,"y":-26,"v":0.76},{"x":1.75,"y":-26,"v":0.76},{"x":2.25,"y":-26,"v":0.76},{"x":2.75,"y":-26,"v":0.77},{"x":3.25,"y":-26,"v":0.76},{"x":3.75,"y":-26,"v":0.76},{"x":4.25,"y":-26,"v":0.77},{"x":4.75,"y":-26,"v":0.76},{"x":5.25,"y":-26,"v":0.76},{"x":5.75,"y":-26,"v":0.76},{"x":6.25,"y":-26,"v":0.76},{"x":6.75,"y":-26,"v":0.77},{"x":7.25,"y":-26,"v":0.76},{"x":7.75,"y":-26,"v":0.76},
{"x":0.25,"y":-28,"v":0.72},{"x":0.75,"y":-28,"v":0.68},{"x":1.25,"y":-28,"v":0.76},{"x":1.75,"y":-28,"v":0.78},{"x":2.25,"y":-28,"v":0.78},{"x":2.75,"y":-28,"v":0.79},{"x":3.25,"y":-28,"v":0.78},{"x":3.75,"y":-28,"v":0.78},{"x":4.25,"y":-28,"v":0.78},{"x":4.75,"y":-28,"v":0.78},{"x":5.25,"y":-28,"v":0.78},{"x":5.75,"y":-28,"v":0.79},{"x":6.25,"y":-28,"v":0.78},{"x":6.75,"y":-28,"v":0.78},{"x":7.25,"y":-28,"v":0.78},{"x":7.75,"y":-28,"v":0.78},
{"x":0.25,"y":-30,"v":0.84},{"x":0.75,"y":-30,"v":0.7},{"x":1.25,"y":-30,"v":0.77},{"x":1.75,"y":-30,"v":0.8},{"x":2.25,"y":-30,"v":0.8},{"x":2.75,"y":-30,"v":0.8},{"x":3.25,"y":-30,"v":0.79},{"x":3.75,"y":-30,"v":0.79},{"x":4.25,"y":-30,"v":0.79},{"x":4.75,"y":-30,"v":0.8},{"x":5.25,"y":-30,"v":0.8},{"x":5.75,"y":-30,"v":0.79},{"x":6.25,"y":-30,"v":0.8},{"x":6.75,"y":-30,"v":0.79},{"x":7.25,"y":-30,"v":0.8},{"x":7.75,"y":-30,"v":0.8},
{"x":0.25,"y":-32,"v":0.88},{"x":0.75,"y":-32,"v":0.76},{"x":1.25,"y":-32,"v":0.8},{"x":1.75,"y":-32,"v":0.82},{"x":2.25,"y":-32,"v":0.8},{"x":2.75,"y":-32,"v":0.79},{"x":3.25,"y":-32,"v":0.78},{"x":3.75,"y":-32,"v":0.78},{"x":4.25,"y":-32,"v":0.78},{"x":4.75,"y":-32,"v":0.78},{"x":5.25,"y":-32,"v":0.78},{"x":5.75,"y":-32,"v":0.79},{"x":6.25,"y":-32,"v":0.78},{"x":6.75,"y":-32,"v":0.78},{"x":7.25,"y":-32,"v":0.78},{"x":7.75,"y":-32,"v":0.77},
{"x":0.25,"y":-34,"v":0.9},{"x":0.75,"y":-34,"v":0.78},{"x":1.25,"y":-34,"v":0.79},{"x":1.75,"y":-34,"v":0.78},{"x":2.25,"y":-34,"v":0.77},{"x":2.75,"y":-34,"v":0.77},{"x":3.25,"y":-34,"v":0.77},{"x":3.75,"y":-34,"v":0.77},{"x":4.25,"y":-34,"v":0.77},{"x":4.75,"y":-34,"v":0.77},{"x":5.25,"y":-34,"v":0.77},{"x":5.75,"y":-34,"v":0.77},{"x":6.25,"y":-34,"v":0.77},{"x":6.75,"y":-34,"v":0.77},{"x":7.25,"y":-34,"v":0.77},{"x":7.75,"y":-34,"v":0.77},
{"x":0.25,"y":-36,"v":0.92},{"x":0.75,"y":-36,"v":0.8},{"x":1.25,"y":-36,"v":0.84},{"x":1.75,"y":-36,"v":0.86},{"x":2.25,"y":-36,"v":0.86},{"x":2.75,"y":-36,"v":0.87},{"x":3.25,"y":-36,"v":0.87},{"x":3.75,"y":-36,"v":0.88},{"x":4.25,"y":-36,"v":0.87},{"x":4.75,"y":-36,"v":0.88},{"x":5.25,"y":-36,"v":0.88},{"x":5.75,"y":-36,"v":0.88},{"x":6.25,"y":-36,"v":0.87},{"x":6.75,"y":-36,"v":0.88},{"x":7.25,"y":-36,"v":0.88},{"x":7.75,"y":-36,"v":0.88},
{"x":0.25,"y":-38,"v":0.94},{"x":0.75,"y":-38,"v":0.82},{"x":1.25,"y":-38,"v":0.85},{"x":1.75,"y":-38,"v":0.87},{"x":2.25,"y":-38,"v":0.88},{"x":2.75,"y":-38,"v":0.88},{"x":3.25,"y":-38,"v":0.89},{"x":3.75,"y":-38,"v":0.89},{"x":4.25,"y":-38,"v":0.89},{"x":4.75,"y":-38,"v":0.89},{"x":5.25,"y":-38,"v":0.9},{"x":5.75,"y":-38,"v":0.89},{"x":6.25,"y":-38,"v":0.89},{"x":6.75,"y":-38,"v":0.9},{"x":7.25,"y":-38,"v":0.89},{"x":7.75,"y":-38,"v":0.89},
{"x":0.25,"y":-40,"v":0.95},{"x":0.75,"y":-40,"v":0.85},{"x":1.25,"y":-40,"v":0.87},{"x":1.75,"y":-40,"v":0.88},{"x":2.25,"y":-40,"v":0.89},{"x":2.75,"y":-40,"v":0.9},{"x":3.25,"y":-40,"v":0.9},{"x":3.75,"y":-40,"v":0.9},{"x":4.25,"y":-40,"v":0.9},{"x":4.75,"y":-40,"v":0.9},{"x":5.25,"y":-40,"v":0.9},{"x":5.75,"y":-40,"v":0.9},{"x":6.25,"y":-40,"v":0.9},{"x":6.75,"y":-40,"v":0.9},{"x":7.25,"y":-40,"v":0.9},{"x":7.75,"y":-40,"v":0.9},
{"x":0.25,"y":-42,"v":0.96},{"x":0.75,"y":-42,"v":0.87},{"x":1.25,"y":-42,"v":0.88},{"x":1.75,"y":-42,"v":0.89},{"x":2.25,"y":-42,"v":0.9},{"x":2.75,"y":-42,"v":0.9},{"x":3.25,"y":-42,"v":0.9},{"x":3.75,"y":-42,"v":0.91},{"x":4.25,"y":-42,"v":0.91},{"x":4.75,"y":-42,"v":0.9},{"x":5.25,"y":-42,"v":0.91},{"x":5.75,"y":-42,"v":0.91},{"x":6.25,"y":-42,"v":0.9},{"x":6.75,"y":-42,"v":0.91},{"x":7.25,"y":-42,"v":0.91},{"x":7.75,"y":-42,"v":0.91},
{"x":0.25,"y":-44,"v":0.96},{"x":0.75,"y":-44,"v":0.89},{"x":1.25,"y":-44,"v":0.89},{"x":1.75,"y":-44,"v":0.9},{"x":2.25,"y":-44,"v":0.91},{"x":2.75,"y":-44,"v":0.91},{"x":3.25,"y":-44,"v":0.91},{"x":3.75,"y":-44,"v":0.91},{"x":4.25,"y":-44,"v":0.91},{"x":4.75,"y":-44,"v":0.92},{"x":5.25,"y":-44,"v":0.91},{"x":5.75,"y":-44,"v":0.91},{"x":6.25,"y":-44,"v":0.92},{"x":6.75,"y":-44,"v":0.91},{"x":7.25,"y":-44,"v":0.92},{"x":7.75,"y":-44,"v":0.92},
{"x":0.25,"y":-46,"v":0.97},{"x":0.75,"y":-46,"v":0.9},{"x":1.25,"y":-46,"v":0.91},{"x":1.75,"y":-46,"v":0.91},{"x":2.25,"y":-46,"v":0.92},{"x":2.75,"y":-46,"v":0.92},{"x":3.25,"y":-46,"v":0.92},{"x":3.75,"y":-46,"v":0.92},{"x":4.25,"y":-46,"v":0.93},{"x":4.75,"y":-46,"v":0.93},{"x":5.25,"y":-46,"v":0.93},{"x":5.75,"y":-46,"v":0.93},{"x":6.25,"y":-46,"v":0.93},{"x":6.75,"y":-46,"v":0.93},{"x":7.25,"y":-46,"v":0.93},{"x":7.75,"y":-46,"v":0.94},
{"x":0.25,"y":-48,"v":0.97},{"x":0.75,"y":-48,"v":0.92},{"x":1.25,"y":-48,"v":0.92},{"x":1.75,"y":-48,"v":0.92},{"x":2.25,"y":-48,"v":0.93},{"x":2.75,"y":-48,"v":0.94},{"x":3.25,"y":-48,"v":0.94},{"x":3.75,"y":-48,"v":0.95},{"x":4.25,"y":-48,"v":0.95},{"x":4.75,"y":-48,"v":0.95},{"x":5.25,"y":-48,"v":0.95},{"x":5.75,"y":-48,"v":0.96},{"x":6.25,"y":-48,"v":0.96},{"x":6.75,"y":-48,"v":0.96},{"x":7.25,"y":-48,"v":0.96},{"x":7.75,"y":-48,"v":0.96},
{"x":0.25,"y":-49.2,"v":0.98},{"x":0.75,"y":-49.2,"v":0.93},{"x":1.25,"y":-49.2,"v":0.93},{"x":1.75,"y":-49.2,"v":0.93},{"x":2.25,"y":-49.2,"v":0.94},{"x":2.75,"y":-49.2,"v":0.95},{"x":3.25,"y":-49.2,"v":0.96},{"x":3.75,"y":-49.2,"v":0.96},{"x":4.25,"y":-49.2,"v":0.96},{"x":4.75,"y":-49.2,"v":0.96},{"x":5.25,"y":-49.2,"v":0.96},{"x":5.75,"y":-49.2,"v":0.96},{"x":6.25,"y":-49.2,"v":0.97},{"x":6.75,"y":-49.2,"v":0.97},{"x":7.25,"y":-49.2,"v":0.97},{"x":7.75,"y":-49.2,"v":0.97}
],
"darkB":[
{"s":"D1","p":"f","x":0.1,"y":-1.9},{"s":"D1","p":"f","x":0.25,"y":-2.4},{"s":"D1","p":"f","x":0.5,"y":-3},{"s":"D1","p":"f","x":1,"y":-3.9},{"s":"D1","p":"m","x":1,"y":-3.9},{"s":"D1","p":"m","x":2,"y":-9.1},{"s":"D1","p":"m","x":3,"y":-12.5},{"s":"D1","p":"m","x":4,"y":-15.1},{"s":"D1","p":"t","x":4,"y":-15.1},{"s":"D1","p":"t","x":5.5,"y":-17.9},{"s":"D1","p":"t","x":8,"y":-21.9},
{"s":"D2","p":"f","x":0.1,"y":-2.3},{"s":"D2","p":"f","x":0.25,"y":-3.2},{"s":"D2","p":"f","x":0.5,"y":-4.4},{"s":"D2","p":"f","x":1,"y":-6.1},{"s":"D2","p":"m","x":1,"y":-6.1},{"s":"D2","p":"m","x":2,"y":-11.3},{"s":"D2","p":"m","x":3,"y":-14.7},{"s":"D2","p":"m","x":4,"y":-17.3},{"s":"D2","p":"t","x":4,"y":-17.3},{"s":"D2","p":"t","x":5.5,"y":-20.1},{"s":"D2","p":"t","x":8,"y":-24.1},
{"s":"D3","p":"f","x":0.1,"y":-2.7},{"s":"D3","p":"f","x":0.25,"y":-4},{"s":"D3","p":"f","x":0.5,"y":-5.8},{"s":"D3","p":"f","x":1,"y":-8.2},{"s":"D3","p":"m","x":1,"y":-8.2},{"s":"D3","p":"m","x":2,"y":-13.4},{"s":"D3","p":"m","x":3,"y":-16.8},{"s":"D3","p":"m","x":4,"y":-19.4},{"s":"D3","p":"t","x":4,"y":-19.4},{"s":"D3","p":"t","x":5.5,"y":-22.2},{"s":"D3","p":"t","x":8,"y":-26.2},
{"s":"D4","p":"f","x":0.1,"y":-3.1},{"s":"D4","p":"f","x":0.25,"y":-4.9},{"s":"D4","p":"f","x":0.5,"y":-7.2},{"s":"D4","p":"f","x":1,"y":-10.4},{"s":"D4","p":"m","x":1,"y":-10.4},{"s":"D4","p":"m","x":2,"y":-15.6},{"s":"D4","p":"m","x":3,"y":-19},{"s":"D4","p":"m","x":4,"y":-21.6},{"s":"D4","p":"t","x":4,"y":-21.6},{"s":"D4","p":"t","x":5.5,"y":-24.4},{"s":"D4","p":"t","x":8,"y":-28.4},
{"s":"D5","p":"f","x":0.1,"y":-3.5},{"s":"D5","p":"f","x":0.25,"y":-5.8},{"s":"D5","p":"f","x":0.5,"y":-8.7},{"s":"D5","p":"f","x":1,"y":-12.8},{"s":"D5","p":"m","x":1,"y":-12.8},{"s":"D5","p":"m","x":2,"y":-18},{"s":"D5","p":"m","x":3,"y":-21.4},{"s":"D5","p":"m","x":4,"y":-24},{"s":"D5","p":"t","x":4,"y":-24},{"s":"D5","p":"t","x":5.5,"y":-26.8},{"s":"D5","p":"t","x":8,"y":-30.8},
{"s":"D6","p":"f","x":0.1,"y":-4},{"s":"D6","p":"f","x":0.25,"y":-6.9},{"s":"D6","p":"f","x":0.5,"y":-10.5},{"s":"D6","p":"f","x":1,"y":-15.5},{"s":"D6","p":"m","x":1,"y":-15.5},{"s":"D6","p":"m","x":2,"y":-20.7},{"s":"D6","p":"m","x":3,"y":-24.1},{"s":"D6","p":"m","x":4,"y":-26.7},{"s":"D6","p":"t","x":4,"y":-26.7},{"s":"D6","p":"t","x":5.5,"y":-29.5},{"s":"D6","p":"t","x":8,"y":-33.5},
{"s":"D7","p":"f","x":0.1,"y":-4.6},{"s":"D7","p":"f","x":0.25,"y":-8.1},{"s":"D7","p":"f","x":0.5,"y":-12.5},{"s":"D7","p":"f","x":1,"y":-18.7},{"s":"D7","p":"m","x":1,"y":-18.7},{"s":"D7","p":"m","x":2,"y":-23.9},{"s":"D7","p":"m","x":3,"y":-27.3},{"s":"D7","p":"m","x":4,"y":-29.9},{"s":"D7","p":"t","x":4,"y":-29.9},{"s":"D7","p":"t","x":5.5,"y":-32.7},{"s":"D7","p":"t","x":8,"y":-36.7},
{"s":"D8","p":"f","x":0.1,"y":-5.3},{"s":"D8","p":"f","x":0.25,"y":-9.5},{"s":"D8","p":"f","x":0.5,"y":-14.8},{"s":"D8","p":"f","x":1,"y":-22.4},{"s":"D8","p":"m","x":1,"y":-22.4},{"s":"D8","p":"m","x":2,"y":-27.6},{"s":"D8","p":"m","x":3,"y":-31},{"s":"D8","p":"m","x":4,"y":-33.6},
{"s":"D9","p":"f","x":0.1,"y":-6},{"s":"D9","p":"f","x":0.25,"y":-11.1},{"s":"D9","p":"f","x":0.5,"y":-17.5},{"s":"D9","p":"f","x":1,"y":-26.6},{"s":"D9","p":"m","x":1,"y":-26.6},{"s":"D9","p":"m","x":2,"y":-31.8},{"s":"D9","p":"m","x":3,"y":-35.2},
{"s":"D10","p":"f","x":0.1,"y":-6.9},{"s":"D10","p":"f","x":0.25,"y":-12.8},{"s":"D10","p":"f","x":0.5,"y":-20.4},{"s":"D10","p":"f","x":1,"y":-31},{"s":"D10","p":"m","x":1,"y":-31},{"s":"D10","p":"m","x":2,"y":-36.2},
{"s":"D11","p":"f","x":0.1,"y":-7.8},{"s":"D11","p":"f","x":0.25,"y":-14.8},{"s":"D11","p":"f","x":0.5,"y":-23.6},{"s":"D11","p":"f","x":1,"y":-36},
{"s":"D12","p":"f","x":0.1,"y":-9},{"s":"D12","p":"f","x":0.25,"y":-17.2},{"s":"D12","p":"f","x":0.5,"y":-27.7},
{"s":"D13","p":"f","x":0.1,"y":-10.4},{"s":"D13","p":"f","x":0.25,"y":-20.3},{"s":"D13","p":"f","x":0.5,"y":-32.8},
{"s":"D14","p":"f","x":0.1,"y":-12.3},{"s":"D14","p":"f","x":0.25,"y":-24.3},{"s":"D14","p":"f","x":0.5,"y":-39.4},
{"s":"N1","p":"m","x":1.1,"y":-2},{"s":"N1","p":"m","x":2,"y":-6.6},{"s":"N1","p":"m","x":3,"y":-10},{"s":"N1","p":"m","x":4,"y":-12.6},{"s":"N1","p":"t","x":4,"y":-12.6},{"s":"N1","p":"t","x":5.5,"y":-15.4},{"s":"N1","p":"t","x":8,"y":-19.4},
{"s":"N2","p":"m","x":1.6,"y":-2},{"s":"N2","p":"m","x":2,"y":-4.2},{"s":"N2","p":"m","x":3,"y":-7.6},{"s":"N2","p":"m","x":4,"y":-10.2},{"s":"N2","p":"t","x":4,"y":-10.2},{"s":"N2","p":"t","x":5.5,"y":-13},{"s":"N2","p":"t","x":8,"y":-17},
{"s":"N3","p":"m","x":2,"y":-1.8},{"s":"N3","p":"m","x":3,"y":-5.2},{"s":"N3","p":"m","x":4,"y":-7.8},{"s":"N3","p":"t","x":4,"y":-7.8},{"s":"N3","p":"t","x":5.5,"y":-10.6},{"s":"N3","p":"t","x":8,"y":-14.6},
{"s":"N4","p":"m","x":2.8,"y":-2.4},{"s":"N4","p":"m","x":4,"y":-5.4},{"s":"N4","p":"t","x":4,"y":-5.4},{"s":"N4","p":"t","x":5.5,"y":-8.2},{"s":"N4","p":"t","x":8,"y":-12.2},
{"s":"N5","p":"t","x":4,"y":-3},{"s":"N5","p":"t","x":5.5,"y":-5.8},{"s":"N5","p":"t","x":8,"y":-9.8}
],
"brightB":[
{"s":"B1","p":"f","x":0.1,"y":-2.1,"v":0.5},{"s":"B1","p":"f","x":0.25,"y":-2.8,"v":0.5},{"s":"B1","p":"f","x":0.5,"y":-3.7,"v":0.5},{"s":"B1","p":"f","x":1,"y":-5,"v":0.5},{"s":"B1","p":"m","x":1,"y":-5},{"s":"B1","p":"m","x":2,"y":-10.2},{"s":"B1","p":"m","x":3,"y":-13.6},{"s":"B1","p":"m","x":4,"y":-16.2},{"s":"B1","p":"t","x":4,"y":-16.2},{"s":"B1","p":"t","x":5.5,"y":-19},{"s":"B1","p":"t","x":8,"y":-23},
{"s":"B2","p":"f","x":0.1,"y":-2.5,"v":0.42},{"s":"B2","p":"f","x":0.25,"y":-3.6,"v":0.42},{"s":"B2","p":"f","x":0.5,"y":-5.1,"v":0.42},{"s":"B2","p":"f","x":1,"y":-7.15,"v":0.42},{"s":"B2","p":"m","x":1,"y":-7.15},{"s":"B2","p":"m","x":2,"y":-12.35},{"s":"B2","p":"m","x":3,"y":-15.75},{"s":"B2","p":"m","x":4,"y":-18.35},{"s":"B2","p":"t","x":4,"y":-18.35},{"s":"B2","p":"t","x":5.5,"y":-21.15},{"s":"B2","p":"t","x":8,"y":-25.15},
{"s":"B3","p":"f","x":0.1,"y":-2.9,"v":0.38},{"s":"B3","p":"f","x":0.25,"y":-4.45,"v":0.38},{"s":"B3","p":"f","x":0.5,"y":-6.5,"v":0.38},{"s":"B3","p":"f","x":1,"y":-9.3,"v":0.38},{"s":"B3","p":"m","x":1,"y":-9.3},{"s":"B3","p":"m","x":2,"y":-14.5},{"s":"B3","p":"m","x":3,"y":-17.9},{"s":"B3","p":"m","x":4,"y":-20.5},{"s":"B3","p":"t","x":4,"y":-20.5},{"s":"B3","p":"t","x":5.5,"y":-23.3},{"s":"B3","p":"t","x":8,"y":-27.3},
{"s":"B4","p":"f","x":0.1,"y":-3.3,"v":0.36},{"s":"B4","p":"f","x":0.25,"y":-5.35,"v":0.36},{"s":"B4","p":"f","x":0.5,"y":-8,"v":0.36},{"s":"B4","p":"f","x":1,"y":-11.6,"v":0.36},{"s":"B4","p":"m","x":1,"y":-11.6},{"s":"B4","p":"m","x":2,"y":-16.8},{"s":"B4","p":"m","x":3,"y":-20.2},{"s":"B4","p":"m","x":4,"y":-22.8},{"s":"B4","p":"t","x":4,"y":-22.8},{"s":"B4","p":"t","x":5.5,"y":-25.6},{"s":"B4","p":"t","x":8,"y":-29.6},
{"s":"B5","p":"f","x":0.1,"y":-3.75,"v":0.36},{"s":"B5","p":"f","x":0.25,"y":-6.35,"v":0.36},{"s":"B5","p":"f","x":0.5,"y":-9.6,"v":0.36},{"s":"B5","p":"f","x":1,"y":-14.15,"v":0.36},{"s":"B5","p":"m","x":1,"y":-14.15},{"s":"B5","p":"m","x":2,"y":-19.35},{"s":"B5","p":"m","x":3,"y":-22.75},{"s":"B5","p":"m","x":4,"y":-25.35},{"s":"B5","p":"t","x":4,"y":-25.35},{"s":"B5","p":"t","x":5.5,"y":-28.15},{"s":"B5","p":"t","x":8,"y":-32.15},
{"s":"B6","p":"f","x":0.1,"y":-4.3,"v":0.36},{"s":"B6","p":"f","x":0.25,"y":-7.5,"v":0.36},{"s":"B6","p":"f","x":0.5,"y":-11.5,"v":0.36},{"s":"B6","p":"f","x":1,"y":-17.1,"v":0.36},{"s":"B6","p":"m","x":1,"y":-17.1},{"s":"B6","p":"m","x":2,"y":-22.3},{"s":"B6","p":"m","x":3,"y":-25.7},{"s":"B6","p":"m","x":4,"y":-28.3},{"s":"B6","p":"t","x":4,"y":-28.3},{"s":"B6","p":"t","x":5.5,"y":-31.1},{"s":"B6","p":"t","x":8,"y":-35.1},
{"s":"B7","p":"f","x":0.1,"y":-4.95,"v":0.38},{"s":"B7","p":"f","x":0.25,"y":-8.8,"v":0.38},{"s":"B7","p":"f","x":0.5,"y":-13.6,"v":0.38},{"s":"B7","p":"f","x":1,"y":-20.55,"v":0.38},{"s":"B7","p":"m","x":1,"y":-20.55},{"s":"B7","p":"m","x":2,"y":-25.75},{"s":"B7","p":"m","x":3,"y":-29.15},{"s":"B7","p":"m","x":4,"y":-31.75},{"s":"B7","p":"t","x":4,"y":-31.75},{"s":"B7","p":"t","x":5.5,"y":-34.55},
{"s":"B8","p":"f","x":0.1,"y":-5.6,"v":0.42},{"s":"B8","p":"f","x":0.25,"y":-10.3,"v":0.42},{"s":"B8","p":"f","x":0.5,"y":-16.1,"v":0.42},{"s":"B8","p":"f","x":1,"y":-24.5,"v":0.42},{"s":"B8","p":"m","x":1,"y":-24.5},{"s":"B8","p":"m","x":2,"y":-29.7},{"s":"B8","p":"m","x":3,"y":-33.1},{"s":"B8","p":"m","x":4,"y":-35.7},
{"s":"B9","p":"f","x":0.1,"y":-6.5,"v":0.5},{"s":"B9","p":"f","x":0.25,"y":-12,"v":0.5},{"s":"B9","p":"f","x":0.5,"y":-18.9,"v":0.5},{"s":"B9","p":"f","x":1,"y":-28.8,"v":0.5},{"s":"B9","p":"m","x":1,"y":-28.8},{"s":"B9","p":"m","x":2,"y":-34},{"s":"B9","p":"m","x":3,"y":-37.4},
{"s":"B10","p":"f","x":0.1,"y":-7.3,"v":0.56},{"s":"B10","p":"f","x":0.25,"y":-13.8,"v":0.56},{"s":"B10","p":"f","x":0.5,"y":-22,"v":0.56},{"s":"B10","p":"f","x":1,"y":-33.5,"v":0.56},{"s":"B10","p":"m","x":1,"y":-33.5},{"s":"B10","p":"m","x":2,"y":-38.7},
{"s":"B11","p":"f","x":0.1,"y":-8.4,"v":0.58},{"s":"B11","p":"f","x":0.25,"y":-16,"v":0.58},{"s":"B11","p":"f","x":0.5,"y":-25.6,"v":0.58},{"s":"B11","p":"f","x":1,"y":-39,"v":0.66},
{"s":"B12","p":"f","x":0.1,"y":-9.7,"v":0.62},{"s":"B12","p":"f","x":0.25,"y":-18.7,"v":0.62},{"s":"B12","p":"f","x":0.5,"y":-30.2,"v":0.62},
{"s":"B13","p":"f","x":0.1,"y":-11.3,"v":0.66},{"s":"B13","p":"f","x":0.25,"y":-22.3,"v":0.66},{"s":"B13","p":"f","x":0.5,"y":-36,"v":0.66},
{"s":"M1","p":"m","x":1.3,"y":-3},{"s":"M1","p":"m","x":2,"y":-7.8},{"s":"M1","p":"m","x":3,"y":-11.2},{"s":"M1","p":"m","x":4,"y":-13.8},{"s":"M1","p":"t","x":4,"y":-13.8},{"s":"M1","p":"t","x":5.5,"y":-16.6},{"s":"M1","p":"t","x":8,"y":-20.6},
{"s":"M2","p":"m","x":1.8,"y":-4},{"s":"M2","p":"m","x":2,"y":-5.4},{"s":"M2","p":"m","x":3,"y":-8.8},{"s":"M2","p":"m","x":4,"y":-11.4},{"s":"M2","p":"t","x":4,"y":-11.4},{"s":"M2","p":"t","x":5.5,"y":-14.2},{"s":"M2","p":"t","x":8,"y":-18.2},
{"s":"M3","p":"m","x":2,"y":-3},{"s":"M3","p":"m","x":3,"y":-6.4},{"s":"M3","p":"m","x":4,"y":-9},{"s":"M3","p":"t","x":4,"y":-9},{"s":"M3","p":"t","x":5.5,"y":-11.8},{"s":"M3","p":"t","x":8,"y":-15.8},
{"s":"M4","p":"m","x":3,"y":-4},{"s":"M4","p":"m","x":4,"y":-6.6},{"s":"M4","p":"t","x":4,"y":-6.6},{"s":"M4","p":"t","x":5.5,"y":-9.4},{"s":"M4","p":"t","x":8,"y":-13.4},
{"s":"M5","p":"t","x":4,"y":-4.2},{"s":"M5","p":"t","x":5.5,"y":-7},{"s":"M5","p":"t","x":8,"y":-11},
{"s":"M6","p":"t","x":4.5,"y":-11.9},{"s":"M6","p":"t","x":8,"y":-11.9}
]}
}
